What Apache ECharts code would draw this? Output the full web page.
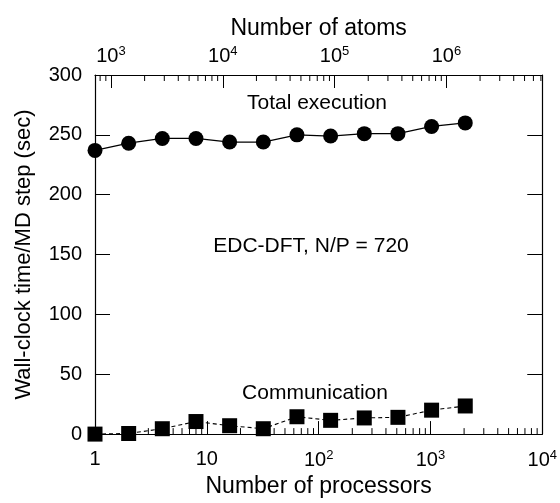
<!DOCTYPE html>
<html>
<head>
<meta charset="utf-8">
<script src="https://cdn.jsdelivr.net/npm/echarts@6/dist/echarts.min.js"></script>
<style>
  html, body { margin: 0; padding: 0; background: #fff; }
  #chart { width: 560px; height: 503px; }
</style>
</head>
<body>
<div id="chart"></div>
<script>
// processors per run (bottom axis), atoms = 720 * processors (top axis)
var processors = [1, 2, 4, 8, 16, 32, 64, 128, 256, 512, 1024, 2048];
var totalTime = [237, 243, 247, 247, 244, 244, 250, 249, 251, 251, 257, 260];
var commTime = [0, 0.5, 4.5, 10.5, 7, 4.5, 14.5, 11.5, 13.5, 14, 20, 23.5];
var atomsPerProc = 720;
var yTicks = [0, 50, 100, 150, 200, 250, 300];

var FONT = 'Liberation Sans';

function pairs(xs, ys) {
  return xs.map(function (x, i) { return [x, ys[i]]; });
}

// minor tick positions for log axes (2..9 x 10^d inside [lo, hi])
function minorTicks(lo, hi) {
  var out = [];
  for (var d = Math.floor(Math.log10(lo)); d <= Math.ceil(Math.log10(hi)); d++) {
    for (var k = 2; k <= 9; k++) {
      var v = k * Math.pow(10, d);
      if (v > lo && v < hi) out.push(v);
    }
  }
  return out;
}

function powLabel(v) {
  var e = Math.round(Math.log10(v));
  if (e === 0) return '1';
  if (e === 1) return '10';
  return '10{s|' + e + '}';
}

function richSup() {
  return { s: { fontSize: 13, fontFamily: FONT, color: '#000', verticalAlign: 'bottom', padding: [0, 0, 9, 0] } };
}

function axLine() { return { color: '#000', width: 1.2 }; }
function tickLine() { return { color: '#000', width: 1 }; }

var xMinB = 1, xMaxB = 10000;
var xMinT = xMinB * atomsPerProc, xMaxT = xMaxB * atomsPerProc;

// minor ticks drawn on the bottom axis' scale (top ones converted atoms -> processors)
function tickSeries(vals, yVal, dir) {
  return {
    type: 'custom',
    xAxisIndex: 0,
    yAxisIndex: 0,
    silent: true,
    z: 1,
    data: vals.map(function (v) { return [v, yVal]; }),
    renderItem: function (params, api) {
      var p = api.coord([api.value(0), api.value(1)]);
      return {
        type: 'line',
        shape: { x1: p[0], y1: p[1], x2: p[0], y2: p[1] + dir * 6 },
        style: { stroke: '#000', lineWidth: 1 }
      };
    }
  };
}

var topMinor = minorTicks(xMinT, xMaxT).map(function (a) { return a / atomsPerProc; });

var chart = echarts.init(document.getElementById('chart'));
chart.setOption({
  backgroundColor: '#fff',
  animation: false,
  textStyle: { fontFamily: FONT, color: '#000' },
  grid: { left: 95, right: 15, top: 75, bottom: 68, containLabel: false },
  xAxis: [{
    type: 'log',
    logBase: 10,
    min: xMinB,
    max: xMaxB,
    name: 'Number of processors',
    nameLocation: 'middle',
    nameGap: 37,
    nameTextStyle: { fontSize: 23, fontFamily: FONT, color: '#000' },
    axisLine: { show: true, onZero: false, lineStyle: axLine() },
    axisTick: { show: true, inside: true, length: 13, lineStyle: tickLine() },
    splitLine: { show: false },
    axisLabel: {
      fontSize: 20, fontFamily: FONT, color: '#000', margin: 15,
      formatter: powLabel, rich: richSup()
    }
  }, {
    type: 'log',
    logBase: 10,
    min: xMinT,
    max: xMaxT,
    position: 'top',
    name: 'Number of atoms',
    nameLocation: 'middle',
    nameGap: 34,
    nameTextStyle: { fontSize: 23, fontFamily: FONT, color: '#000' },
    axisLine: { show: true, onZero: false, lineStyle: axLine() },
    axisTick: { show: true, inside: true, length: 13, lineStyle: tickLine() },
    splitLine: { show: false },
    axisLabel: {
      fontSize: 20, fontFamily: FONT, color: '#000', margin: 8,
      showMinLabel: false, showMaxLabel: false,
      formatter: powLabel, rich: richSup()
    }
  }],
  yAxis: [{
    type: 'value',
    min: yTicks[0],
    max: yTicks[yTicks.length - 1],
    interval: yTicks[1] - yTicks[0],
    name: 'Wall-clock time/MD step (sec)',
    nameLocation: 'middle',
    nameRotate: 90,
    nameGap: 60,
    nameTextStyle: { fontSize: 22, fontFamily: FONT, color: '#000' },
    axisLine: { show: true, lineStyle: axLine() },
    axisTick: { show: true, inside: true, length: 15, lineStyle: tickLine() },
    splitLine: { show: false },
    axisLabel: { fontSize: 20, fontFamily: FONT, color: '#000', margin: 13 }
  }, {
    type: 'value',
    position: 'right',
    min: yTicks[0],
    max: yTicks[yTicks.length - 1],
    interval: yTicks[1] - yTicks[0],
    axisLine: { show: true, lineStyle: axLine() },
    axisTick: { show: true, inside: true, length: 15, lineStyle: tickLine() },
    splitLine: { show: false },
    axisLabel: { show: false }
  }],
  series: [
    tickSeries(minorTicks(xMinB, xMaxB), yTicks[0], -1),
    tickSeries(topMinor, yTicks[yTicks.length - 1], 1),
    {
      name: 'Total execution',
      type: 'line',
      data: pairs(processors, totalTime),
      symbol: 'circle',
      symbolSize: 15,
      z: 5,
      lineStyle: { color: '#000', width: 1.3 },
      itemStyle: { color: '#000' }
    },
    {
      name: 'Communication',
      type: 'line',
      data: pairs(processors, commTime),
      symbol: 'rect',
      symbolSize: 15,
      z: 5,
      lineStyle: { color: '#000', width: 1.1, type: [4, 3] },
      itemStyle: { color: '#000' }
    }
  ],
  graphic: [
    { type: 'text', x: 317, y: 103, style: { text: 'Total execution', fontSize: 21, fontFamily: FONT, fill: '#000', align: 'center', verticalAlign: 'middle' } },
    { type: 'text', x: 311, y: 246, style: { text: 'EDC-DFT, N/P = 720', fontSize: 21, fontFamily: FONT, fill: '#000', align: 'center', verticalAlign: 'middle' } },
    { type: 'text', x: 315, y: 393, style: { text: 'Communication', fontSize: 21, fontFamily: FONT, fill: '#000', align: 'center', verticalAlign: 'middle' } }
  ]
});
</script>
</body>
</html>
